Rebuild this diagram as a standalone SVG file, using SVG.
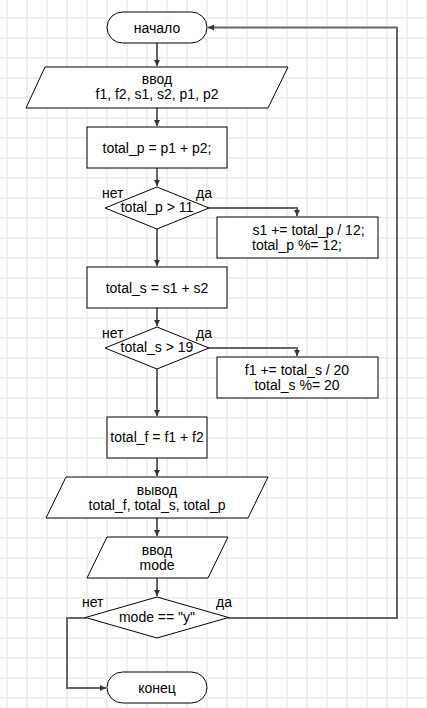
<svg xmlns="http://www.w3.org/2000/svg" width="427" height="708" viewBox="0 0 427 708">
<style>
.node{fill:#ffffff;stroke:#000000;stroke-width:1}
.t{font-family:"Liberation Sans",Arial,sans-serif;font-size:14px;fill:#000000;text-anchor:middle}
.l{font-family:"Liberation Sans",Arial,sans-serif;font-size:14px;fill:#000000;text-anchor:start}
.c{fill:none;stroke:#666666;stroke-width:2}
</style>
<defs>
<pattern id="grid" patternUnits="userSpaceOnUse" x="-3" y="8" width="20" height="20">
<rect x="9" y="0" width="2" height="20" fill="#f0f0f0"/>
<rect x="0" y="9" width="20" height="2" fill="#f0f0f0"/>
</pattern>
<marker id="arr" markerUnits="userSpaceOnUse" markerWidth="7" markerHeight="7" refX="6" refY="3.5" orient="auto">
<path d="M0,0.5 L6,3.5 L0,6.5 Z" fill="#333333"/>
</marker>
</defs>
<rect x="0" y="0" width="427" height="708" fill="#ffffff"/>
<rect x="0" y="0" width="427" height="708" fill="url(#grid)"/>

<g id="connectors">
<path class="c" d="M157,43 V66" marker-end="url(#arr)"/>
<path class="c" d="M157,108 V126" marker-end="url(#arr)"/>
<path class="c" d="M157,168 V186" marker-end="url(#arr)"/>
<path class="c" d="M209,208 H297 V216" marker-end="url(#arr)"/>
<path class="c" d="M157,229 V266" marker-end="url(#arr)"/>
<path class="c" d="M157,308 V326" marker-end="url(#arr)"/>
<path class="c" d="M209,348 H297 V356" marker-end="url(#arr)"/>
<path class="c" d="M157,369 V416" marker-end="url(#arr)"/>
<path class="c" d="M157,458 V476" marker-end="url(#arr)"/>
<path class="c" d="M157,518 V536" marker-end="url(#arr)"/>
<path class="c" d="M157,578 V596" marker-end="url(#arr)"/>
<path class="c" d="M86,618 H67 V688 H106" marker-end="url(#arr)"/>
<path class="c" d="M228,618 H397 V27.5 H208" marker-end="url(#arr)"/>
</g>

<g id="start">
<rect class="node" x="107" y="12" width="100" height="31" rx="15.5" ry="15.5"/>
<text class="t" x="157" y="32.5">начало</text>
</g>

<g id="input1">
<polygon class="node" points="45,67 288,67 268,108 26,108"/>
<text class="t" x="157" y="84">ввод</text>
<text class="t" x="157" y="99">f1, f2, s1, s2, p1, p2</text>
</g>

<g id="calc_p">
<rect class="node" x="87" y="127" width="140" height="41"/>
<text class="t" x="157" y="153">total_p = p1 + p2;</text>
</g>

<g id="cond_p">
<polygon class="node" points="157,187 209,208 157,229 105,208"/>
<text class="t" x="157" y="212">total_p &gt; 11</text>
<text class="l" x="102" y="197.5">нет</text>
<text class="l" x="196" y="197.5">да</text>
</g>

<g id="adjust_p">
<rect class="node" x="217" y="217" width="161" height="41"/>
<text class="l" x="252.5" y="234.5">s1 += total_p / 12;</text>
<text class="l" x="252" y="249.5">total_p %= 12;</text>
</g>

<g id="calc_s">
<rect class="node" x="87" y="267" width="140" height="41"/>
<text class="t" x="157" y="292.5">total_s = s1 + s2</text>
</g>

<g id="cond_s">
<polygon class="node" points="157,327 209,348 157,369 105,348"/>
<text class="t" x="157" y="352">total_s &gt; 19</text>
<text class="l" x="102" y="337.5">нет</text>
<text class="l" x="196" y="337.5">да</text>
</g>

<g id="adjust_s">
<rect class="node" x="217" y="357" width="161" height="41"/>
<text class="t" x="297" y="374.5">f1 += total_s / 20</text>
<text class="t" x="297" y="389.5">total_s %= 20</text>
</g>

<g id="calc_f">
<rect class="node" x="107" y="417" width="100" height="41"/>
<text class="t" x="157" y="441.5">total_f = f1 + f2</text>
</g>

<g id="output">
<polygon class="node" points="66,477 268,477 248,518 46,518"/>
<text class="t" x="157" y="494.5">вывод</text>
<text class="t" x="157" y="509.5">total_f, total_s, total_p</text>
</g>

<g id="input2">
<polygon class="node" points="107,537 228,537 208,578 87,578"/>
<text class="t" x="157" y="554.5">ввод</text>
<text class="t" x="157" y="569.5">mode</text>
</g>

<g id="cond_mode">
<polygon class="node" points="157,597 228.5,617.5 157,638 85.5,617.5"/>
<text class="t" x="157" y="622">mode == "y"</text>
<text class="l" x="82" y="606.5">нет</text>
<text class="l" x="216" y="606.5">да</text>
</g>

<g id="end">
<rect class="node" x="107" y="672" width="100" height="31" rx="15.5" ry="15.5"/>
<text class="t" x="157" y="692.5">конец</text>
</g>
</svg>
